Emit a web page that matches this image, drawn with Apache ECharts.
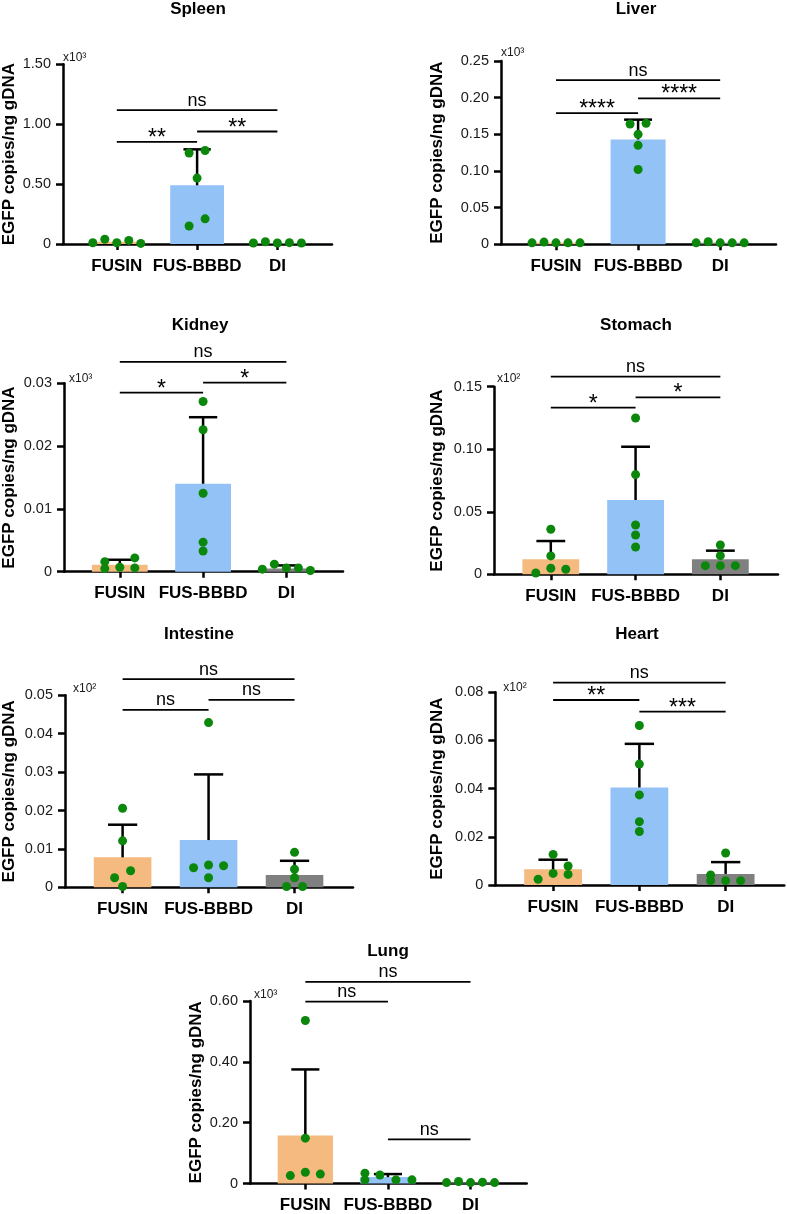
<!DOCTYPE html>
<html><head><meta charset="utf-8">
<script src="https://cdn.jsdelivr.net/npm/echarts@6/dist/echarts.min.js"></script>
<style>html,body{margin:0;padding:0;background:#fff}#c{width:787px;height:1214px}</style>
</head><body><div id="c"></div>
<script>
const categories = ['FUSIN', 'FUS-BBBD', 'DI'];

// Spleen (x10^3)
const spleenMean = [0.018, 0.49, 0.009];
const spleenErrTop = [null, 0.79, null];
const spleenFUSIN = [0.01, 0.04, 0.01, 0.03, 0.005];
const spleenBBBD = [0.76, 0.78, 0.55, 0.15, 0.21];
const spleenDI = [0.008, 0.019, 0.008, 0.011, 0.008];
const spleenTicks = [0, 0.5, 1.0, 1.5];
const spleenSig = [[0, 1, 0.853, '**'], [1, 2, 0.939, '**'], [0, 2, 1.117, 'ns']];

// Liver (x10^3)
const liverMean = [0.002, 0.143, 0.002];
const liverErrTop = [null, 0.17, null];
const liverFUSIN = [0.002, 0.003, 0.002, 0.002, 0.002];
const liverBBBD = [0.164, 0.165, 0.150, 0.135, 0.102];
const liverDI = [0.002, 0.0036, 0.002, 0.002, 0.002];
const liverTicks = [0, 0.05, 0.10, 0.15, 0.20, 0.25];
const liverSig = [[0, 1, 0.179, '****'], [1, 2, 0.199, '****'], [0, 2, 0.224, 'ns']];

// Kidney (x10^3)
const kidneyMean = [0.0011, 0.0140, 0.0005];
const kidneyErrTop = [0.0019, 0.0246, 0.0010];
const kidneyFUSIN = [0.0016, 0.0005, 0.0007, 0.0022, 0.0006];
const kidneyBBBD = [0.0271, 0.0226, 0.0125, 0.0047, 0.0033];
const kidneyDI = [0.0004, 0.0012, 0.0006, 0.0006, 0.0002];
const kidneyTicks = [0, 0.01, 0.02, 0.03];
const kidneySig = [[0, 1, 0.0285, '*'], [1, 2, 0.0301, '*'], [0, 2, 0.0334, 'ns']];

// Stomach (x10^2)
const stomachMean = [0.012, 0.0594, 0.012];
const stomachErrTop = [0.0266, 0.102, 0.0189];
const stomachFUSIN = [0.001, 0.0147, 0.0048, 0.036, 0.004];
const stomachBBBD = [0.125, 0.0797, 0.0394, 0.0314, 0.0218];
const stomachDI = [0.0069, 0.0234, 0.0149, 0.0069, 0.0069];
const stomachTicks = [0, 0.05, 0.10, 0.15];
const stomachSig = [[0, 1, 0.1332, '*'], [1, 2, 0.1415, '*'], [0, 2, 0.158, 'ns']];

// Intestine (x10^2)
const intestineMean = [0.0078, 0.0123, 0.0032];
const intestineErrTop = [0.0163, 0.0294, 0.0069];
const intestineFUSIN = [0.0206, 0.0121, 0.0043, 0.0025, 0.0002];
const intestineBBBD = [0.0429, 0.0051, 0.0058, 0.0056, 0.0025];
const intestineDI = [0.0091, 0.0047, 0.0025, 0.0002, 0.0002];
const intestineTicks = [0, 0.01, 0.02, 0.03, 0.04, 0.05];
const intestineSig = [[0, 1, 0.0462, 'ns'], [1, 2, 0.0488, 'ns'], [0, 2, 0.0542, 'ns']];

// Heart (x10^2)
const heartMean = [0.0065, 0.0405, 0.0046];
const heartErrTop = [0.0105, 0.0586, 0.0095];
const heartFUSIN = [0.0127, 0.0079, 0.0048, 0.0044, 0.0024];
const heartBBBD = [0.0662, 0.0502, 0.0374, 0.0263, 0.0222];
const heartDI = [0.0133, 0.0042, 0.0018, 0.0018, 0.0018];
const heartTicks = [0, 0.02, 0.04, 0.06, 0.08];
const heartSig = [[0, 1, 0.0768, '**'], [1, 2, 0.0720, '***'], [0, 2, 0.0840, 'ns']];

// Lung (x10^3)
const lungMean = [0.1576, 0.021, 0.004];
const lungErrTop = [0.375, 0.031, null];
const lungFUSIN = [0.536, 0.149, 0.037, 0.026, 0.031];
const lungBBBD = [0.034, 0.012, 0.028, 0.012, 0.012];
const lungDI = [0.003, 0.0065, 0.003, 0.0045, 0.003];
const lungTicks = [0, 0.20, 0.40, 0.60];
const lungSig = [[0, 1, 0.598, 'ns'], [0, 2, 0.663, 'ns'], [1, 2, 0.145, 'ns']];

// ---- styling / layout (not data) ----
const barColors = ['#F5BA80', '#93C2F7', '#808080'];
const dotColor = '#0B870B';
const FONT = '"Liberation Sans", Arial, Helvetica, sans-serif';

// horizontal beeswarm offsets of the dots, in pixels
const spleenJitter = [[-24, -12, 0, 12, 24], [-8, 8, 0, -8, 8], [-24, -12, 0, 12, 24]];
const liverJitter = [[-24, -12, 0, 12, 24], [-8, 8, 0, 0, 0], [-24, -12, 0, 12, 24]];
const kidneyJitter = [[-15, -15, 0, 15, 15], [0, 0, 0, 0, 0], [-24, -12, 0, 12, 24]];
const stomachJitter = [[-15, 0, 0, 0, 15], [0, 0, 0, 0, 0], [-15, 0, 0, 0, 15]];
const intestineJitter = [[0, 0, 8, -8, 0], [0, -15, 0, 15, 0], [0, 0, 0, -8, 8]];
const heartJitter = [[0, 15, 0, 15, -15], [0, 0, 0, 0, 0], [0, -15, -15, 0, 15]];
const lungJitter = [[0, 0, 0, -15, 15], [-23, -23, -8, 8, 24], [-24, -12, 0, 12, 24]];

const panels = [
  { title: 'Spleen', mult: 'x10³', mean: spleenMean, err: spleenErrTop, pts: [spleenFUSIN, spleenBBBD, spleenDI], jit: spleenJitter, ticks: spleenTicks, sig: spleenSig,
    left: 62, top: 64.3, width: 270, height: 179.7, tx: 198, ty: 9, nameGap: 45, multDx: 0, multGap: 7 },
  { title: 'Liver', mult: 'x10³', mean: liverMean, err: liverErrTop, pts: [liverFUSIN, liverBBBD, liverDI], jit: liverJitter, ticks: liverTicks, sig: liverSig,
    left: 501, top: 61, width: 275, height: 183.3, tx: 636, ty: 9, nameGap: 55, multDx: 0, multGap: 8 },
  { title: 'Kidney', mult: 'x10³', mean: kidneyMean, err: kidneyErrTop, pts: [kidneyFUSIN, kidneyBBBD, kidneyDI], jit: kidneyJitter, ticks: kidneyTicks, sig: kidneySig,
    left: 61, top: 383.3, width: 282, height: 188.4, tx: 200, ty: 325.5, nameGap: 46, multDx: 5, multGap: 4.3 },
  { title: 'Stomach', mult: 'x10²', mean: stomachMean, err: stomachErrTop, pts: [stomachFUSIN, stomachBBBD, stomachDI], jit: stomachJitter, ticks: stomachTicks, sig: stomachSig,
    left: 494, top: 386.7, width: 284, height: 187.6, tx: 636, ty: 325.5, nameGap: 48, multDx: 3, multGap: 7.7 },
  { title: 'Intestine', mult: 'x10²', mean: intestineMean, err: intestineErrTop, pts: [intestineFUSIN, intestineBBBD, intestineDI], jit: intestineJitter, ticks: intestineTicks, sig: intestineSig,
    left: 62.3, top: 695.3, width: 290.7, height: 192, tx: 199, ty: 634.5, nameGap: 47, multDx: 8, multGap: 6.3 },
  { title: 'Heart', mult: 'x10²', mean: heartMean, err: heartErrTop, pts: [heartFUSIN, heartBBBD, heartDI], jit: heartJitter, ticks: heartTicks, sig: heartSig,
    left: 495.3, top: 692.3, width: 289, height: 192.7, tx: 637, ty: 634.5, nameGap: 49, multDx: 8, multGap: 4.3 },
  { title: 'Lung', mult: 'x10³', mean: lungMean, err: lungErrTop, pts: [lungFUSIN, lungBBBD, lungDI], jit: lungJitter, ticks: lungTicks, sig: lungSig,
    left: 250, top: 1001, width: 276.7, height: 184, tx: 388, ty: 951.5, nameGap: 45, multDx: 4, multGap: 6 }
];

const axisLine = { show: true, onZero: false, lineStyle: { color: '#000', width: 2.5 } };
const option = {
  animation: false,
  backgroundColor: '#fff',
  textStyle: { fontFamily: FONT },
  title: [], grid: [], xAxis: [], yAxis: [], series: []
};

panels.forEach((p, i) => {
  option.title.push({
    text: p.title, left: p.tx, top: p.ty, textAlign: 'center', textVerticalAlign: 'middle', padding: 0,
    textStyle: { fontFamily: FONT, fontSize: 17, fontWeight: 'bold', color: '#000' }
  });
  option.grid.push({ left: p.left, top: p.top, width: p.width, height: p.height });
  option.xAxis.push({
    gridIndex: i, type: 'value', position: 'bottom', min: -0.67, max: 2.68,
    axisLine: axisLine,
    axisTick: { show: true, customValues: [0, 1, 2], length: 6, lineStyle: { color: '#000', width: 2.5 } },
    axisLabel: { customValues: [0, 1, 2], formatter: v => categories[Math.round(v)], margin: 13.5,
      fontFamily: FONT, fontSize: 17, fontWeight: 'bold', color: '#000' },
    splitLine: { show: false }
  });
  const tmax = p.ticks[p.ticks.length - 1];
  option.yAxis.push({
    gridIndex: i, type: 'value', position: 'left', min: 0, max: tmax,
    axisLabel: { customValues: p.ticks, formatter: v => (v === 0 ? '0' : v.toFixed(2)), margin: 12,
      fontFamily: FONT, fontSize: 14.5, color: '#1a1a1a' },
    axisTick: { show: true, customValues: p.ticks, length: 7, lineStyle: { color: '#000', width: 2.5 } },
    axisLine: axisLine,
    splitLine: { show: false },
    name: 'EGFP copies/ng gDNA', nameLocation: 'middle', nameRotate: 90, nameGap: p.nameGap,
    nameTextStyle: { fontFamily: FONT, fontSize: 17, fontWeight: 'bold', color: '#000' }
  });
  option.yAxis.push({
    gridIndex: i, type: 'value', position: 'left', min: 0, max: tmax,
    axisLine: { show: false, onZero: false }, axisTick: { show: false }, axisLabel: { show: false }, splitLine: { show: false },
    name: p.mult, nameLocation: 'end', nameGap: p.multGap,
    nameTextStyle: { fontFamily: FONT, fontSize: 12, color: '#1a1a1a', align: 'left', verticalAlign: 'middle', padding: [0, 0, 0, p.multDx] }
  });
  const yi = i * 2;
  // bars
  option.series.push({
    type: 'bar', xAxisIndex: i, yAxisIndex: yi, barWidth: '67%', z: 2,
    data: p.mean.map((m, k) => ({ value: [k, m], itemStyle: { color: barColors[k] } }))
  });
  // error bars (mean -> mean + SD)
  const errData = [];
  p.err.forEach((t, k) => { if (t != null) errData.push([k, p.mean[k], t]); });
  option.series.push({
    type: 'custom', xAxisIndex: i, yAxisIndex: yi, z: 3, clip: false,
    encode: { x: 0, y: [1, 2] },
    data: errData,
    renderItem: (params, api) => {
      const x = api.value(0);
      const p0 = api.coord([x, api.value(1)]);
      const p1 = api.coord([x, api.value(2)]);
      const half = api.size([1, 0])[0] * 0.17;
      const st = { stroke: '#000', lineWidth: 2.5 };
      return { type: 'group', children: [
        { type: 'line', shape: { x1: p0[0], y1: p0[1], x2: p1[0], y2: p1[1] }, style: st },
        { type: 'line', shape: { x1: p1[0] - half, y1: p1[1], x2: p1[0] + half, y2: p1[1] }, style: st }
      ] };
    }
  });
  // individual points
  const dots = [];
  p.pts.forEach((arr, k) => arr.forEach((v, j) => dots.push({ value: [k, v], symbolOffset: [p.jit[k][j], 0] })));
  option.series.push({
    type: 'scatter', xAxisIndex: i, yAxisIndex: yi, z: 4, clip: false,
    symbolSize: 9, itemStyle: { color: dotColor, opacity: 1 },
    data: dots
  });
  // significance brackets
  const sig = p.sig;
  option.series.push({
    type: 'custom', xAxisIndex: i, yAxisIndex: yi, z: 5, clip: false,
    encode: { x: [0, 1], y: 2 },
    data: sig.map(s => [s[0], s[1], s[2]]),
    renderItem: (params, api) => {
      const label = sig[params.dataIndex][3];
      const y = api.value(2);
      const a = api.coord([api.value(0), y]);
      const b = api.coord([api.value(1), y]);
      const isStar = label.indexOf('*') >= 0;
      return { type: 'group', children: [
        { type: 'line', shape: { x1: a[0], y1: a[1], x2: b[0], y2: b[1] }, style: { stroke: '#000', lineWidth: 1.8 } },
        { type: 'text', x: (a[0] + b[0]) / 2, y: a[1] - (isStar ? 3.3 : 9.5),
          style: { text: label, fill: '#000', align: 'center', verticalAlign: 'middle',
            font: (isStar ? '23px ' : '18px ') + FONT } }
      ] };
    }
  });
});

const chart = echarts.init(document.getElementById('c'), null, { renderer: 'canvas' });
chart.setOption(option);
</script>
</body></html>
